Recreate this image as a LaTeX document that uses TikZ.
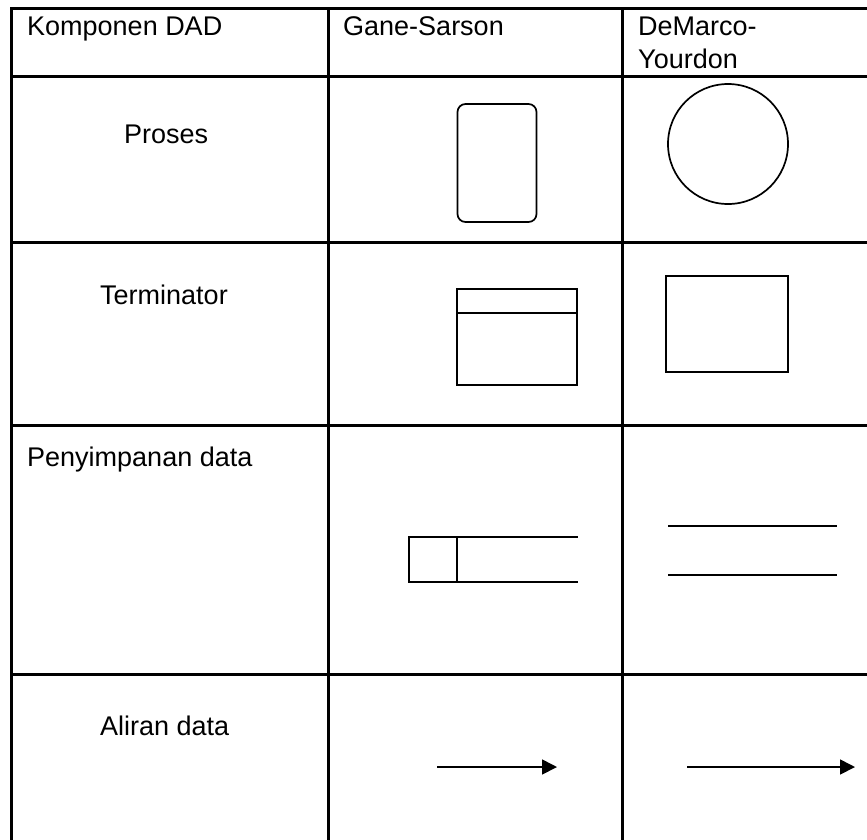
\documentclass[tikz,border=0pt]{standalone}
\usepackage{fontspec}
\setmainfont{Liberation Sans}
\usetikzlibrary{arrows.meta}
\begin{document}
\begin{tikzpicture}[x=1pt,y=-1pt,
  grid/.style={line width=3pt, line cap=rect},
  sym/.style={draw, line width=1.7pt, inner sep=0pt, outer sep=0pt},
  symline/.style={line width=1.7pt},
  txt/.style={font=\fontsize{27}{33}\selectfont, inner sep=0pt, anchor=base west},
  flow/.style={line width=1.7pt, -{Triangle[length=15pt,width=15pt]}}]
\useasboundingbox (0,0) rectangle (867,839);
\fill[white] (0,0) rectangle (867,839);

% table rules
\foreach \yy in {8,76,242,425,674}
  \draw[grid] (11,\yy) -- (880,\yy);
\foreach \xx in {11,328,622}
  \draw[grid] (\xx,8) -- (\xx,850);

% header row
\node[txt] (hA) at (27,35) {Komponen DAD};
\node[txt] (hB) at (343,35) {Gane-Sarson};
\node[txt] (hC1) at (638,35) {DeMarco-};
\node[txt] (hC2) at (638,68) {Yourdon};

% row labels
\node[txt] (rProses) at (124,143) {Proses};
\node[txt] (rTerm) at (100,304) {Terminator};
\node[txt] (rStore) at (27,466) {Penyimpanan data};
\node[txt] (rFlow) at (100,735) {Aliran data};

% process
\node[sym, rounded corners=8pt, minimum width=79pt, minimum height=118pt] (gsProc) at (497,163) {};
\node[sym, circle, minimum size=120pt] (dyProc) at (728,144) {};

% terminator
\node[sym, minimum width=120pt, minimum height=96pt] (gsTerm) at (517,337) {};
\draw[symline] ([yshift=-24pt]gsTerm.north west) -- ([yshift=-24pt]gsTerm.north east);
\node[sym, minimum width=122pt, minimum height=96pt] (dyTerm) at (727,324) {};

% data store
\node[sym, minimum width=48pt, minimum height=45pt] (gsStore) at (433,559.5) {};
\coordinate (gsStoreTop) at (578,537);
\coordinate (gsStoreBot) at (578,582);
\draw[symline] (gsStore.north east) -- (gsStoreTop);
\draw[symline] (gsStore.south east) -- (gsStoreBot);
\coordinate (dyStoreA1) at (668,526);
\coordinate (dyStoreA2) at (837,526);
\coordinate (dyStoreB1) at (668,575);
\coordinate (dyStoreB2) at (837,575);
\draw[symline] (dyStoreA1) -- (dyStoreA2);
\draw[symline] (dyStoreB1) -- (dyStoreB2);

% data flow
\coordinate (gsFlowA) at (437,767);
\coordinate (gsFlowB) at (557,767);
\coordinate (dyFlowA) at (687,767);
\coordinate (dyFlowB) at (855,767);
\draw[flow] (gsFlowA) -- (gsFlowB);
\draw[flow] (dyFlowA) -- (dyFlowB);
\end{tikzpicture}
\end{document}
